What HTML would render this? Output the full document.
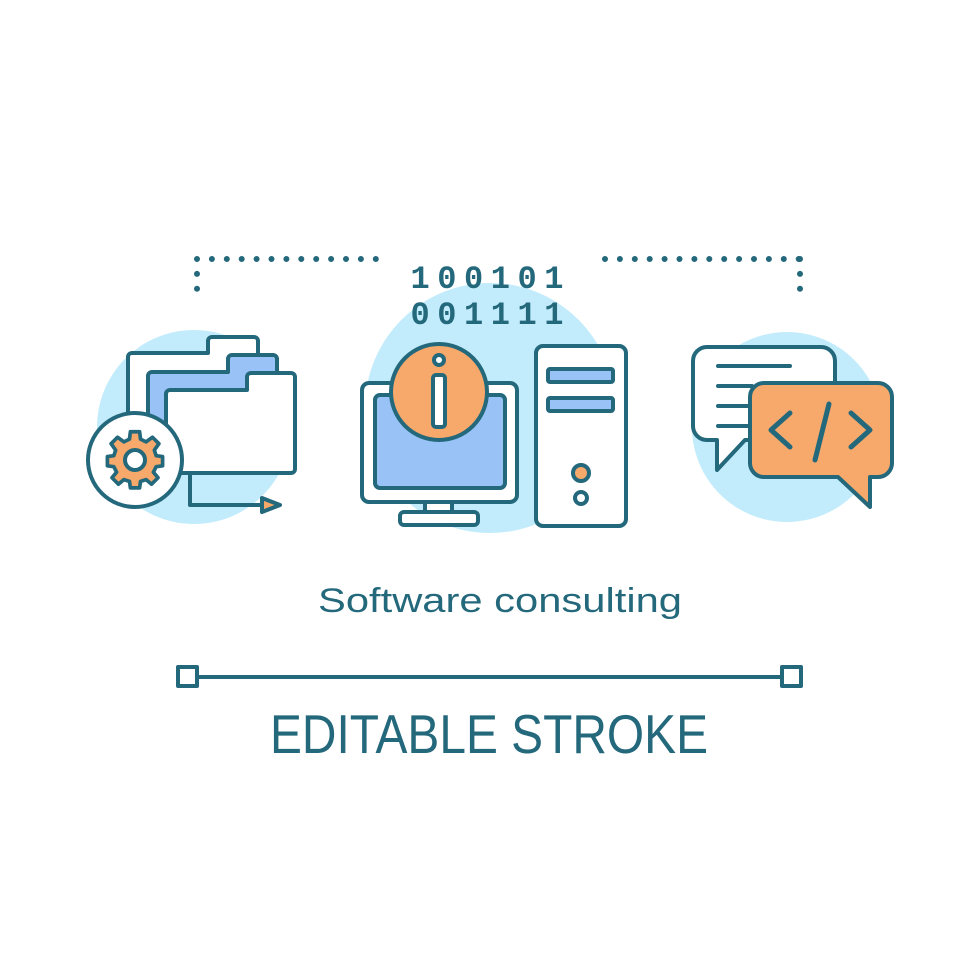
<!DOCTYPE html>
<html><head><meta charset="utf-8"><style>html,body{margin:0;padding:0;background:#fff}svg{display:block}</style></head>
<body>
<svg width="980" height="980" viewBox="0 0 980 980" xmlns="http://www.w3.org/2000/svg">
<g fill="none" stroke="#24687c" stroke-width="6" stroke-linecap="round" stroke-linejoin="round">
<path d="M197 259 H378 M197 259 V303" stroke-dasharray="0 14.9"/>
<path d="M605 259 H800 M800 259 V300" stroke-dasharray="0 14.9"/>
</g>
<circle cx="194" cy="427" r="97" fill="#c2ecfb"/>
<circle cx="490" cy="408" r="125" fill="#c2ecfb"/>
<circle cx="787" cy="427" r="95" fill="#c2ecfb"/>
<g stroke="#24687c" stroke-width="4" stroke-linejoin="round" stroke-linecap="round">
<path d="M128 460 V357 a4 4 0 0 1 4-4 H208 V341 a4 4 0 0 1 4-4 H254 a4 4 0 0 1 4 4 V460 Z" fill="#fff"/>
<path d="M148 460 V376 a4 4 0 0 1 4-4 H228 V359 a4 4 0 0 1 4-4 H273 a4 4 0 0 1 4 4 V460 Z" fill="#99c3f7"/>
<path d="M166 473 V394 a4 4 0 0 1 4-4 H247 V377 a4 4 0 0 1 4-4 H291 a4 4 0 0 1 4 4 V469 a4 4 0 0 1 -4 4 Z" fill="#fff"/>
<path d="M190 473 V505 H262" fill="none"/>
<path d="M262 498 L280 505 L262 512 Z" fill="#f6a96b"/>
<circle cx="135" cy="460" r="47" fill="#fff"/>
<g transform="translate(135 460)">
<path d="M-5 -28 H5 L6 -20 L12 -17 L19 -22 L26 -15 L21 -8 L23 -2 L30 -1 V9 L23 10 L20 16 L25 22 L18 29 L12 24 L6 26 L5 33 H-5 L-6 26 L-12 24 L-18 29 L-25 22 L-20 16 L-23 10 L-30 9 V-1 L-23 -2 L-21 -8 L-26 -15 L-19 -22 L-12 -17 L-6 -20 Z" transform="translate(0 -2.5) scale(0.92)" fill="#f6a96b"/>
<circle cx="0" cy="0" r="10" fill="#fff"/>
</g>
<rect x="362" y="383" width="155" height="119" rx="7" fill="#fff"/>
<rect x="375" y="395" width="130" height="93" rx="5" fill="#99c3f7"/>
<rect x="425" y="502" width="27" height="10" fill="#fff"/>
<rect x="400" y="512" width="78" height="13" rx="4" fill="#fff"/>
<circle cx="439" cy="392" r="48" fill="#f6a96b"/>
<circle cx="439" cy="360" r="5" fill="#fff"/>
<rect x="433" y="375" width="12" height="52" rx="3" fill="#fff"/>
<rect x="536" y="346" width="90" height="180" rx="7" fill="#fff"/>
<rect x="548" y="369" width="65" height="13" rx="2" fill="#99c3f7"/>
<rect x="548" y="398" width="65" height="13" rx="2" fill="#99c3f7"/>
<circle cx="581" cy="473" r="8" fill="#f6a96b"/>
<circle cx="581" cy="498" r="6" fill="#fff"/>
<path d="M707 347 H821 a14 14 0 0 1 14 14 V426 a14 14 0 0 1 -14 14 H745 L717 470 V440 H707 a14 14 0 0 1 -14 -14 V361 a14 14 0 0 1 14 -14 Z" fill="#fff"/>
<path d="M718 366 H790 M718 386 H752 M718 406 H752 M718 426 H752" fill="none"/>
<path d="M764 383 H878 a14 14 0 0 1 14 14 V463 a14 14 0 0 1 -14 14 H870 V507 L838 477 H764 a14 14 0 0 1 -14 -14 V397 a14 14 0 0 1 14 -14 Z" fill="#f6a96b"/>
<path d="M790 413 L771 430 L790 447 M851 413 L870 430 L851 447 M829 404 L815 460" fill="none" stroke-width="5"/>
<line x1="198" y1="677" x2="780" y2="677"/>
<rect x="178" y="667" width="19" height="19" fill="#fff"/>
<rect x="782" y="667" width="19" height="19" fill="#fff"/>
</g>
<g fill="#24687c">
<text x="487" y="288" font-family="Liberation Mono, monospace" font-weight="bold" font-size="32" text-anchor="middle" textLength="153" lengthAdjust="spacing">100101</text>
<text x="487" y="324" font-family="Liberation Mono, monospace" font-weight="bold" font-size="32" text-anchor="middle" textLength="153" lengthAdjust="spacing">001111</text>
<text x="500" y="612" font-family="Liberation Sans, sans-serif" font-size="34" text-anchor="middle" textLength="364" lengthAdjust="spacingAndGlyphs">Software consulting</text>
<text x="489" y="753" font-family="Liberation Sans, sans-serif" font-size="55" text-anchor="middle" textLength="438" lengthAdjust="spacingAndGlyphs">EDITABLE STROKE</text>
</g>
</svg>
</body></html>
